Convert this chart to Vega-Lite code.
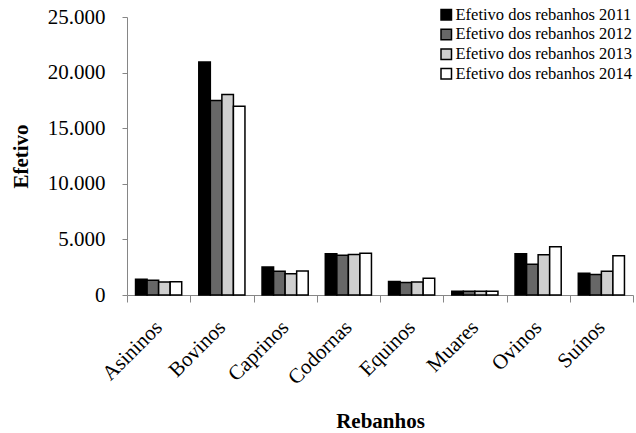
{
  "$schema": "https://vega.github.io/schema/vega-lite/v6.json",
  "width": 506,
  "height": 278,
  "autosize": {"type": "none"},
  "padding": {"left": 127, "top": 17, "right": 3, "bottom": 138},
  "config": {
    "view": {"stroke": null},
    "font": "Liberation Serif",
    "axis": {
      "domainColor": "#868686",
      "tickColor": "#868686",
      "labelColor": "#000000",
      "titleColor": "#000000",
      "labelFont": "Liberation Serif",
      "titleFont": "Liberation Serif",
      "grid": false
    }
  },
  "data": {
    "values": [
      {"rebanho": "Asininos", "serie": "Efetivo dos rebanhos 2011", "efetivo": 1410},
      {"rebanho": "Asininos", "serie": "Efetivo dos rebanhos 2012", "efetivo": 1320},
      {"rebanho": "Asininos", "serie": "Efetivo dos rebanhos 2013", "efetivo": 1170},
      {"rebanho": "Asininos", "serie": "Efetivo dos rebanhos 2014", "efetivo": 1200},
      {"rebanho": "Bovinos", "serie": "Efetivo dos rebanhos 2011", "efetivo": 20950},
      {"rebanho": "Bovinos", "serie": "Efetivo dos rebanhos 2012", "efetivo": 17500},
      {"rebanho": "Bovinos", "serie": "Efetivo dos rebanhos 2013", "efetivo": 18020},
      {"rebanho": "Bovinos", "serie": "Efetivo dos rebanhos 2014", "efetivo": 16970},
      {"rebanho": "Caprinos", "serie": "Efetivo dos rebanhos 2011", "efetivo": 2520},
      {"rebanho": "Caprinos", "serie": "Efetivo dos rebanhos 2012", "efetivo": 2130},
      {"rebanho": "Caprinos", "serie": "Efetivo dos rebanhos 2013", "efetivo": 1920},
      {"rebanho": "Caprinos", "serie": "Efetivo dos rebanhos 2014", "efetivo": 2160},
      {"rebanho": "Codornas", "serie": "Efetivo dos rebanhos 2011", "efetivo": 3700},
      {"rebanho": "Codornas", "serie": "Efetivo dos rebanhos 2012", "efetivo": 3580},
      {"rebanho": "Codornas", "serie": "Efetivo dos rebanhos 2013", "efetivo": 3640},
      {"rebanho": "Codornas", "serie": "Efetivo dos rebanhos 2014", "efetivo": 3760},
      {"rebanho": "Equinos", "serie": "Efetivo dos rebanhos 2011", "efetivo": 1210},
      {"rebanho": "Equinos", "serie": "Efetivo dos rebanhos 2012", "efetivo": 1120},
      {"rebanho": "Equinos", "serie": "Efetivo dos rebanhos 2013", "efetivo": 1180},
      {"rebanho": "Equinos", "serie": "Efetivo dos rebanhos 2014", "efetivo": 1510},
      {"rebanho": "Muares", "serie": "Efetivo dos rebanhos 2011", "efetivo": 340},
      {"rebanho": "Muares", "serie": "Efetivo dos rebanhos 2012", "efetivo": 330},
      {"rebanho": "Muares", "serie": "Efetivo dos rebanhos 2013", "efetivo": 330},
      {"rebanho": "Muares", "serie": "Efetivo dos rebanhos 2014", "efetivo": 330},
      {"rebanho": "Ovinos", "serie": "Efetivo dos rebanhos 2011", "efetivo": 3700},
      {"rebanho": "Ovinos", "serie": "Efetivo dos rebanhos 2012", "efetivo": 2770},
      {"rebanho": "Ovinos", "serie": "Efetivo dos rebanhos 2013", "efetivo": 3610},
      {"rebanho": "Ovinos", "serie": "Efetivo dos rebanhos 2014", "efetivo": 4330},
      {"rebanho": "Suínos", "serie": "Efetivo dos rebanhos 2011", "efetivo": 1960},
      {"rebanho": "Suínos", "serie": "Efetivo dos rebanhos 2012", "efetivo": 1840},
      {"rebanho": "Suínos", "serie": "Efetivo dos rebanhos 2013", "efetivo": 2140},
      {"rebanho": "Suínos", "serie": "Efetivo dos rebanhos 2014", "efetivo": 3530}
    ]
  },
  "mark": {"type": "bar", "stroke": "#000000", "strokeWidth": 1.5},
  "encoding": {
    "x": {
      "field": "rebanho",
      "type": "nominal",
      "sort": null,
      "scale": {"paddingInner": 0, "paddingOuter": 0},
      "axis": {
        "title": "Rebanhos",
        "titleFontSize": 21,
        "titleFontWeight": "bold",
        "titlePadding": 23,
        "tickBand": "extent",
        "tickSize": 7,
        "labelAngle": -45,
        "labelAlign": "right",
        "labelBaseline": "middle",
        "labelFontSize": 21,
        "labelPadding": 22
      }
    },
    "xOffset": {
      "field": "serie",
      "type": "nominal",
      "scale": {"paddingInner": 0, "paddingOuter": 0.74}
    },
    "y": {
      "field": "efetivo",
      "type": "quantitative",
      "scale": {"domain": [0, 25000]},
      "axis": {
        "title": "Efetivo",
        "titleFontSize": 21,
        "titleFontWeight": "bold",
        "titlePadding": 16,
        "values": [0, 5000, 10000, 15000, 20000, 25000],
        "labelExpr": "replace(format(datum.value, ',.0f'), ',', '.')",
        "labelFontSize": 21,
        "labelPadding": 17,
        "tickSize": 5
      }
    },
    "color": {
      "field": "serie",
      "type": "nominal",
      "scale": {"range": ["#000000", "#676767", "#cfcfcf", "#ffffff"]},
      "legend": {
        "title": null,
        "orient": "none",
        "legendX": 311,
        "legendY": -10.5,
        "padding": 0,
        "symbolType": "square",
        "symbolSize": 110,
        "symbolStrokeColor": "#000000",
        "symbolStrokeWidth": 1.5,
        "labelFont": "Liberation Serif",
        "labelFontSize": 16.5,
        "labelLimit": 0,
        "labelColor": "#000000",
        "labelOffset": 1,
        "rowPadding": 2.7
      }
    }
  }
}
